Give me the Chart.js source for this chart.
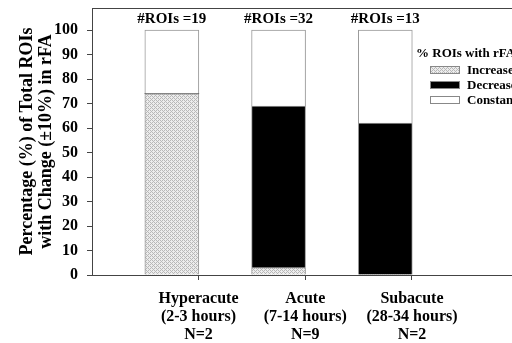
<!DOCTYPE html>
<html lang="en">
  <head>
    <meta charset="UTF-8" />
    <title>rFA change by stage</title>
    <style>
      html, body { margin: 0; padding: 0; background: #fff; }
      #wrap { width: 512px; height: 343px; }
    </style>
  </head>
  <body>
    <div id="wrap"><canvas id="roiChart"></canvas></div>
    <script src="https://cdn.jsdelivr.net/npm/chart.js"></script>
    <script>
      // data
      const stages = ['Hyperacute', 'Acute', 'Subacute'];
      const stageTimes = ['(2-3 hours)', '(7-14 hours)', '(28-34 hours)'];
      const stageN = ['N=2', 'N=9', 'N=2'];
      const roiCounts = [19, 32, 13];
      const increase = [74, 3, 0];
      const decrease = [0, 66, 62];
      const constant = [26, 31, 38];
      const yTicks = [0, 10, 20, 30, 40, 50, 60, 70, 80, 90, 100];

      const serif = "'Liberation Serif', 'Times New Roman', serif";
      const axisColor = '#444';

      // light hatch fill for "Increase"
      const makeHatch = () => {
        const c = document.createElement('canvas');
        c.width = 4;
        c.height = 4;
        const g = c.getContext('2d');
        g.fillStyle = '#ececec';
        g.fillRect(0, 0, 4, 4);
        g.fillStyle = '#b8b8b8';
        g.fillRect(0, 0, 1, 1);
        g.fillRect(1, 1, 1, 1);
        g.fillRect(2, 2, 1, 1);
        g.fillRect(3, 3, 1, 1);
        g.fillRect(2, 0, 1, 1);
        g.fillRect(0, 2, 1, 1);
        return g.createPattern(c, 'repeat');
      };
      const hatch = makeHatch();

      const toPoints = (arr) => arr.map((v, i) => ({ x: i + 1, y: v }));
      // no outline on empty segments
      const edge = (c) => (c.raw && c.raw.y ? 1 : 0);

      const extras = {
        id: 'extras',
        afterDraw(chart) {
          const ctx = chart.ctx;
          const area = chart.chartArea;
          const xs = chart.scales.x;
          ctx.save();
          // top frame line
          ctx.strokeStyle = axisColor;
          ctx.lineWidth = 1;
          ctx.beginPath();
          ctx.moveTo(area.left, area.top + 0.5);
          ctx.lineTo(area.right, area.top + 0.5);
          ctx.stroke();

          // ROI counts above each bar
          ctx.fillStyle = '#000';
          ctx.font = 'bold 15px ' + serif;
          ctx.textAlign = 'center';
          ctx.textBaseline = 'middle';
          roiCounts.forEach((n, i) => {
            ctx.fillText('#ROIs =' + n, xs.getPixelForValue(i + 1), 19);
          });

          // legend
          ctx.textAlign = 'left';
          ctx.font = 'bold 13px ' + serif;
          ctx.fillText('% ROIs with rFA', 416, 54);
          chart.data.datasets.forEach((ds, i) => {
            const y = 70 + i * 15;
            ctx.fillStyle = ds.backgroundColor;
            ctx.fillRect(430, y - 4, 30, 8);
            ctx.strokeStyle = '#888';
            ctx.strokeRect(430.5, y - 3.5, 29, 7);
            ctx.fillStyle = '#000';
            ctx.fillText(ds.label, 467, y + 1);
          });
          ctx.restore();
        },
      };

      const ctx = document.getElementById('roiChart').getContext('2d');
      new Chart(ctx, {
        type: 'bar',
        data: {
          datasets: [
            {
              label: 'Increase',
              data: toPoints(increase),
              backgroundColor: hatch,
              borderColor: '#999',
              borderWidth: edge,
              barThickness: 54,
            },
            {
              label: 'Decrease',
              data: toPoints(decrease),
              backgroundColor: '#000',
              borderColor: '#999',
              borderWidth: edge,
              barThickness: 54,
            },
            {
              label: 'Constant',
              data: toPoints(constant),
              backgroundColor: '#fff',
              borderColor: '#999',
              borderWidth: edge,
              barThickness: 54,
            },
          ],
        },
        options: {
          responsive: true,
          maintainAspectRatio: false,
          animation: false,
          layout: { padding: { left: 0, right: 0, top: 8, bottom: 0 } },
          plugins: {
            legend: { display: false },
            tooltip: { enabled: false },
          },
          scales: {
            x: {
              type: 'linear',
              stacked: true,
              offset: false,
              min: 0.252,
              max: 4.187,
              afterBuildTicks: (scale) => {
                scale.ticks = stages.map((s, i) => ({ value: i + 1.25 }));
              },
              afterFit: (scale) => {
                scale.height = 68;
                scale.paddingLeft = 0;
                scale.paddingRight = 0;
              },
              ticks: {
                color: '#000',
                font: { family: serif, size: 16, weight: 'bold', lineHeight: '18px' },
                padding: 10,
                maxRotation: 0,
                autoSkip: false,
                callback: (v) => {
                  const i = Math.round(v - 1.25);
                  return [stages[i], stageTimes[i], stageN[i]];
                },
              },
              grid: {
                offset: false,
                drawOnChartArea: false,
                drawTicks: true,
                tickLength: 5,
                color: axisColor,
              },
              border: { display: true, color: axisColor },
            },
            y: {
              stacked: true,
              min: 0,
              max: 109,
              afterBuildTicks: (scale) => {
                scale.ticks = yTicks.map((v) => ({ value: v }));
              },
              afterFit: (scale) => {
                scale.width = 92;
                scale.paddingTop = 0;
                scale.paddingBottom = 0;
              },
              ticks: {
                color: '#000',
                font: { family: serif, size: 16, weight: 'bold' },
                padding: 9,
              },
              grid: {
                drawOnChartArea: false,
                drawTicks: true,
                tickLength: 5,
                color: axisColor,
              },
              border: { display: true, color: axisColor },
              title: {
                display: true,
                text: ['Percentage (%) of Total ROIs', 'with Change (\u00b110%) in rFA'],
                color: '#000',
                font: { family: serif, size: 18, weight: 'bold', lineHeight: 1.1 },
                padding: { top: 17, bottom: 0 },
              },
            },
          },
        },
        plugins: [extras],
      });
    </script>
  </body>
</html>
